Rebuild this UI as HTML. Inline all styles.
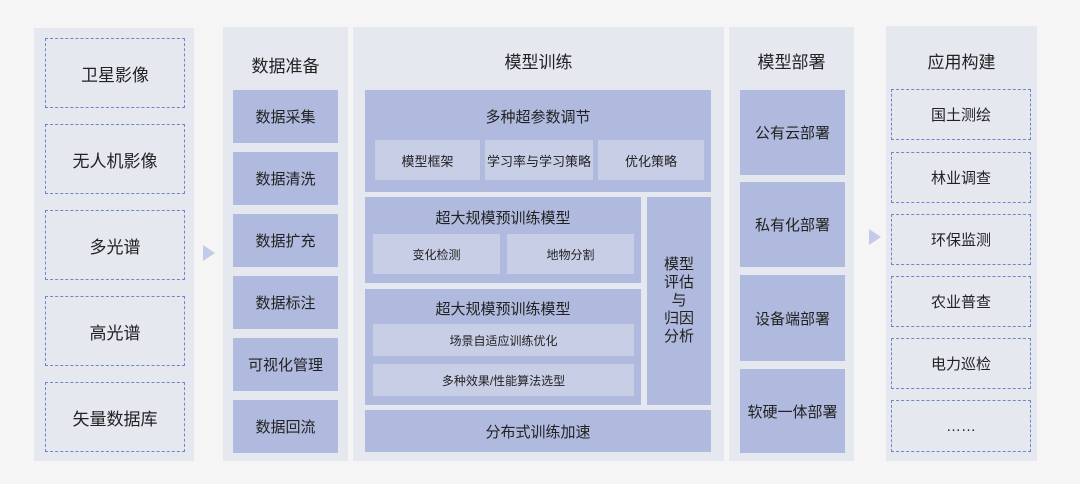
<!DOCTYPE html>
<html><head><meta charset="utf-8"><style>
*{margin:0;padding:0;box-sizing:border-box}
body{width:1080px;height:484px;background:#f5f5f6;position:relative;overflow:hidden;font-family:"Liberation Sans","Noto Sans CJK SC",sans-serif;color:#222}
.a{position:absolute;display:flex;align-items:center;justify-content:center;text-align:center}
.p{background:#e6e8f0}
.b{background:#b0bade}
.s{background:#c8cee6}
.d{border:1.5px dashed #6f86cc}
.t{font-size:17px}
.f15{font-size:15px}
.f13{font-size:13px}
.f12{font-size:12px}
.arr{position:absolute;width:0;height:0;border-top:8px solid transparent;border-bottom:8px solid transparent;border-left:12px solid #c3cbe8}
</style></head><body>
<!-- col1 -->
<div class="a p" style="left:34px;top:28px;width:160px;height:433px"></div>
<div class="a d t" style="left:45px;top:38px;width:140px;height:70px">卫星影像</div>
<div class="a d t" style="left:45px;top:124px;width:140px;height:70px">无人机影像</div>
<div class="a d t" style="left:45px;top:210px;width:140px;height:70px">多光谱</div>
<div class="a d t" style="left:45px;top:296px;width:140px;height:70px">高光谱</div>
<div class="a d t" style="left:45px;top:382px;width:140px;height:70px">矢量数据库</div>
<div class="arr" style="left:203px;top:245px"></div>
<!-- col2 -->
<div class="a p" style="left:223px;top:27px;width:125px;height:434px"></div>
<div class="a t" style="left:223px;top:50px;width:125px;height:28px">数据准备</div>
<div class="a b f15" style="left:233px;top:90px;width:105px;height:53px">数据采集</div>
<div class="a b f15" style="left:233px;top:152px;width:105px;height:53px">数据清洗</div>
<div class="a b f15" style="left:233px;top:214px;width:105px;height:53px">数据扩充</div>
<div class="a b f15" style="left:233px;top:276px;width:105px;height:53px">数据标注</div>
<div class="a b f15" style="left:233px;top:338px;width:105px;height:53px">可视化管理</div>
<div class="a b f15" style="left:233px;top:400px;width:105px;height:53px">数据回流</div>
<!-- col3 -->
<div class="a p" style="left:353px;top:27px;width:371px;height:434px"></div>
<div class="a t" style="left:353px;top:46px;width:371px;height:28px">模型训练</div>
<div class="a b" style="left:365px;top:90px;width:346px;height:102px"></div>
<div class="a f15" style="left:365px;top:104px;width:346px;height:24px">多种超参数调节</div>
<div class="a s f13" style="left:375px;top:140px;width:105px;height:40px">模型框架</div>
<div class="a s f13" style="left:485px;top:140px;width:108px;height:40px">学习率与学习策略</div>
<div class="a s f13" style="left:598px;top:140px;width:106px;height:40px">优化策略</div>
<div class="a b" style="left:365px;top:197px;width:276px;height:86px"></div>
<div class="a f15" style="left:365px;top:205px;width:276px;height:24px">超大规模预训练模型</div>
<div class="a s f12" style="left:373px;top:234px;width:127px;height:40px">变化检测</div>
<div class="a s f12" style="left:507px;top:234px;width:127px;height:40px">地物分割</div>
<div class="a b" style="left:365px;top:289px;width:276px;height:116px"></div>
<div class="a f15" style="left:365px;top:296px;width:276px;height:24px">超大规模预训练模型</div>
<div class="a s f12" style="left:373px;top:324px;width:261px;height:32px">场景自适应训练优化</div>
<div class="a s f12" style="left:373px;top:364px;width:261px;height:32px">多种效果/性能算法选型</div>
<div class="a b f15" style="left:647px;top:197px;width:64px;height:208px;line-height:18px">模型<br>评估<br>与<br>归因<br>分析</div>
<div class="a b f15" style="left:365px;top:410px;width:346px;height:42px">分布式训练加速</div>
<!-- col4 -->
<div class="a p" style="left:729px;top:27px;width:125px;height:434px"></div>
<div class="a t" style="left:729px;top:46px;width:125px;height:28px">模型部署</div>
<div class="a b f15" style="left:740px;top:90px;width:105px;height:85px">公有云部署</div>
<div class="a b f15" style="left:740px;top:182px;width:105px;height:85px">私有化部署</div>
<div class="a b f15" style="left:740px;top:275px;width:105px;height:86px">设备端部署</div>
<div class="a b f15" style="left:740px;top:369px;width:105px;height:84px">软硬一体部署</div>
<div class="arr" style="left:869px;top:229px"></div>
<!-- col5 -->
<div class="a p" style="left:886px;top:26px;width:151px;height:435px"></div>
<div class="a t" style="left:886px;top:46px;width:151px;height:28px">应用构建</div>
<div class="a d f15" style="left:891px;top:89px;width:140px;height:51px">国土测绘</div>
<div class="a d f15" style="left:891px;top:152px;width:140px;height:51px">林业调查</div>
<div class="a d f15" style="left:891px;top:214px;width:140px;height:51px">环保监测</div>
<div class="a d f15" style="left:891px;top:276px;width:140px;height:51px">农业普查</div>
<div class="a d f15" style="left:891px;top:338px;width:140px;height:51px">电力巡检</div>
<div class="a d f15" style="left:891px;top:400px;width:140px;height:52px">……</div>
</body></html>
